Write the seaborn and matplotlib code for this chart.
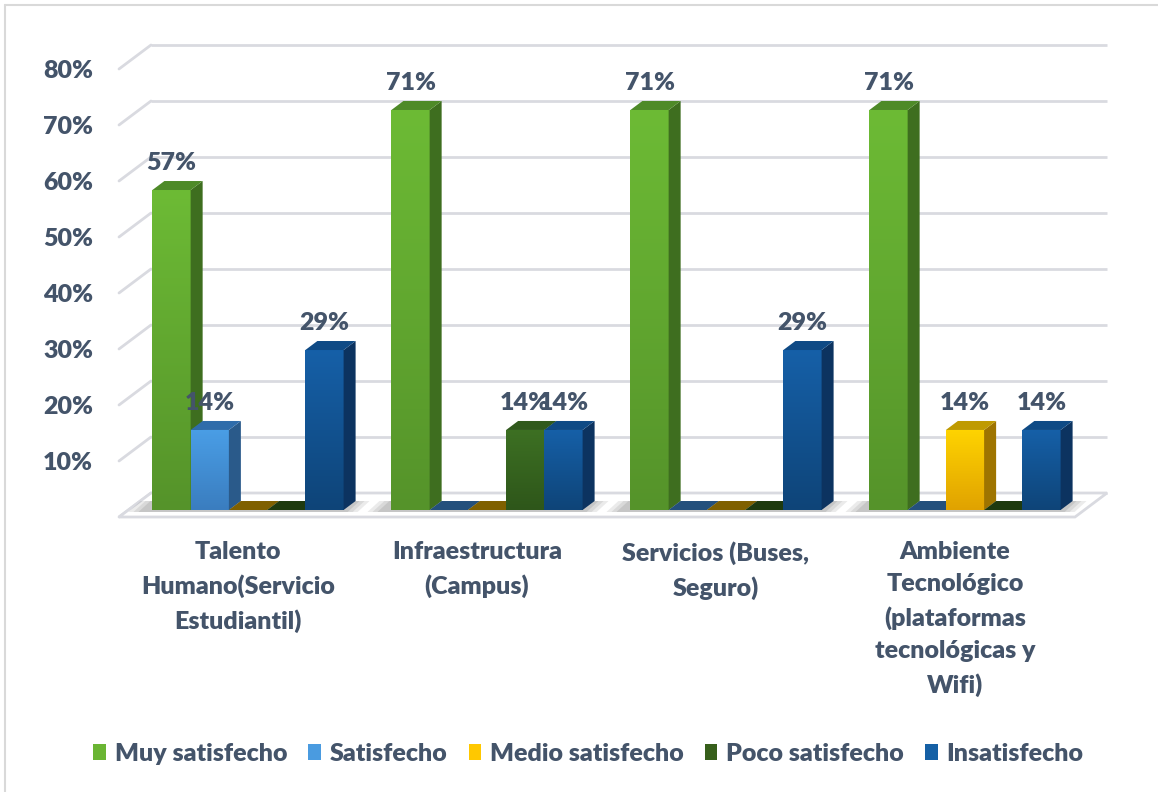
import numpy as np
import pandas as pd
import matplotlib
matplotlib.use("Agg")
import matplotlib.pyplot as plt
import seaborn as sns
from matplotlib.patches import Polygon, Patch
from matplotlib.colors import LinearSegmentedColormap
from matplotlib.lines import Line2D
from matplotlib.transforms import ScaledTranslation

# -------------------------------
# Data
# -------------------------------
categories = [
    "Talento\nHumano(Servicio\nEstudiantil)",
    "Infraestructura\n(Campus)",
    "Servicios (Buses,\nSeguro)",
    "Ambiente\nTecnológico\n(plataformas\ntecnológicas y\nWifi)",
]
levels = ["Muy satisfecho", "Satisfecho", "Medio satisfecho", "Poco satisfecho", "Insatisfecho"]

muy_satisfecho = [57.14, 71.43, 71.43, 71.43]
satisfecho = [14.29, 0, 0, 0]
medio_satisfecho = [0, 0, 0, 14.29]
poco_satisfecho = [0, 14.29, 0, 0]
insatisfecho = [28.57, 14.29, 28.57, 14.29]

y_ticks = [10, 20, 30, 40, 50, 60, 70, 80]

# -------------------------------
# Colours (front top, front bottom, side, top, flat tile)
# -------------------------------
legend_colors = ["#6AB533", "#4A9BE0", "#FFC800", "#375F1B", "#1560A5"]
shades = {
    "Muy satisfecho":   ("#6DBB35", "#55932A", "#3E6E1F", "#4E8A28", "#4E8A28"),
    "Satisfecho":       ("#4A9EE6", "#3A7DBF", "#2A5A8A", "#2F6CAA", "#24507C"),
    "Medio satisfecho": ("#FFD400", "#E0A200", "#9E7400", "#BF9A00", "#7F6000"),
    "Poco satisfecho":  ("#3D7023", "#2E561A", "#25461A", "#30591C", "#1E3A0F"),
    "Insatisfecho":     ("#1660A8", "#0E4478", "#0C3360", "#0F4A85", "#1F4E79"),
}
TXT = "#44546A"
GRID = "#D9DAE0"
FW = "heavy"
FS = 18

df = pd.DataFrame({
    "Aspecto": categories * 5,
    "Nivel": np.repeat(levels, 4),
    "Valor": muy_satisfecho + satisfecho + medio_satisfecho + poco_satisfecho + insatisfecho,
})

sns.set_theme(style="white")
plt.rcParams["font.family"] = ["Lato", "DejaVu Sans"]
plt.rcParams["font.weight"] = FW

W, H = 1158, 792
fig = plt.figure(figsize=(W / 100, H / 100), dpi=100)
ax = fig.add_axes([128.5 / W, 282 / H, 956 / W, 448 / H])

sns.barplot(
    data=df, x="Aspecto", y="Valor", hue="Nivel",
    order=categories, hue_order=levels,
    palette=legend_colors, width=0.8, saturation=1,
    errorbar=None, legend=False, ax=ax,
)

ax.set_xlim(-0.5, 3.5)
ax.set_ylim(0, 80)
ax.set_facecolor("none")
ax.grid(False)
sns.despine(ax=ax, left=True, bottom=True)
ax.set_xlabel("")
ax.set_ylabel("")

# data units per pixel
sx = 4 / 956
sy = 80 / 448

# -------------------------------
# Walls, gridlines and floor
# -------------------------------
fx, fy = -9.5 * sx, -7 * sy     # front edge of floor
bx, by = 22.5 * sx, 17 * sy     # back wall

for t in [0] + y_ticks:
    ax.plot([-0.5 + bx, 3.5 + bx], [t + by, t + by], color=GRID, lw=2,
            clip_on=False, zorder=1, solid_capstyle="butt")
    ax.plot([-0.5 + fx, -0.5 + bx], [t + fy, t + by], color=GRID, lw=2,
            clip_on=False, zorder=1)

floor = Polygon(
    [(-0.5 + fx, fy), (3.5 + fx, fy), (3.5 + bx, by), (-0.5 + bx, by)],
    closed=True, facecolor="white", edgecolor=GRID, lw=2, clip_on=False, zorder=1.5,
)
ax.add_patch(floor)

# soft shadow under each group
for i in range(len(categories)):
    gx0 = i - 0.4 - 14 * sx
    gx1 = i + 0.4 + 4 * sx
    for k, a in enumerate([0.10, 0.10, 0.12]):
        pad = (2 - k) * 5 * sx
        ax.add_patch(Polygon(
            [(gx0 - pad, -2 * sy), (gx1 + pad, -2 * sy),
             (gx1 + pad + 12 * sx, 9 * sy), (gx0 - pad + 12 * sx, 9 * sy)],
            closed=True, facecolor="#404040", edgecolor="none", alpha=a,
            clip_on=False, zorder=1.6,
        ))

# -------------------------------
# 3D bars
# -------------------------------
dx, dy = 12 * sx, 9 * sy
grad = np.linspace(0, 1, 256).reshape(-1, 1)

for i, level in enumerate(levels):
    c_top, c_bot, c_side, c_cap, c_tile = shades[level]
    cmap = LinearSegmentedColormap.from_list(level, [c_bot, c_top])
    for j, bar in enumerate(ax.containers[i]):
        x0 = bar.get_x()
        w = bar.get_width()
        h = bar.get_height()
        z = 3 + j * 0.1 + i * 0.01
        if h > 0:
            bar.set_zorder(z)
            bar.set_edgecolor("none")
            im = ax.imshow(grad, extent=[x0, x0 + w, 0, h], origin="lower",
                           cmap=cmap, aspect="auto", zorder=z + 0.001)
            im.set_clip_path(bar)
            ax.add_patch(Polygon(
                [(x0 + w, 0), (x0 + w + dx, dy), (x0 + w + dx, h + dy), (x0 + w, h)],
                closed=True, facecolor=c_side, edgecolor="none", zorder=z + 0.002))
            ax.add_patch(Polygon(
                [(x0, h), (x0 + dx, h + dy), (x0 + w + dx, h + dy), (x0 + w, h)],
                closed=True, facecolor=c_cap, edgecolor="none", zorder=z + 0.002))
            ax.annotate(f"{h:.0f}%", (x0 + w / 2, h), xytext=(0, 14.4),
                        textcoords="offset points", ha="center", va="baseline",
                        fontsize=FS, color=TXT, fontweight=FW, zorder=10)
        else:
            ax.add_patch(Polygon(
                [(x0, 0), (x0 + dx, dy), (x0 + w + dx, dy), (x0 + w, 0)],
                closed=True, facecolor=c_tile, edgecolor="none", zorder=z))

ax.set_xlim(-0.5, 3.5)
ax.set_ylim(0, 80)

# -------------------------------
# Axis labels
# -------------------------------
ax.set_yticks(y_ticks)
ax.set_yticklabels([f"{t}%" for t in y_ticks], fontsize=FS, color=TXT, fontweight=FW)
ax.tick_params(axis="y", length=0, pad=25.5)
for lab in ax.get_yticklabels():
    lab.set_transform(lab.get_transform() + ScaledTranslation(0, -0.07, fig.dpi_scale_trans))

ax.set_xticks(range(len(categories)))
ax.set_xticklabels(categories, fontsize=FS, color=TXT, fontweight=FW, linespacing=1.56)
ax.tick_params(axis="x", length=0, pad=22.5)
for lab in ax.get_xticklabels():
    lab.set_transform(lab.get_transform() + ScaledTranslation(-0.10, 0, fig.dpi_scale_trans))

# -------------------------------
# Legend
# -------------------------------
handles = [Patch(facecolor=c, edgecolor="none") for c in legend_colors]
fig.legend(
    handles, levels, loc="center", bbox_to_anchor=(0.508, 38 / H), ncol=5,
    frameon=False, fontsize=FS, labelcolor=TXT,
    handlelength=0.5, handleheight=0.6, handletextpad=0.35, columnspacing=0.85,
)

# chart border (top and left visible)
fig.add_artist(Line2D([5 / W, 5 / W], [0, 1 - 5 / H], transform=fig.transFigure,
                      color="#D9D9D9", lw=1.5))
fig.add_artist(Line2D([5 / W, 1], [1 - 5 / H, 1 - 5 / H], transform=fig.transFigure,
                      color="#D9D9D9", lw=1.5))

fig.savefig("out.png", dpi=100)
plt.close(fig)
